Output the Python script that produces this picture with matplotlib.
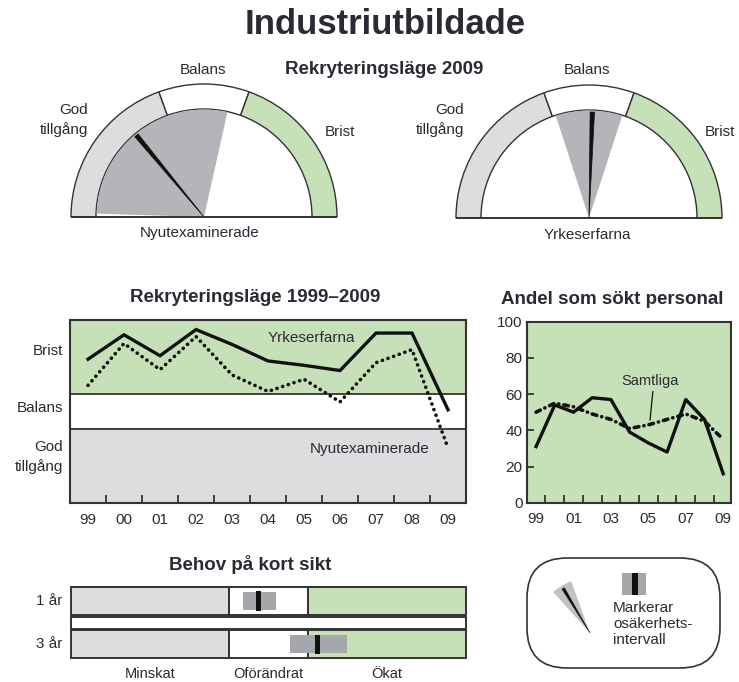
import matplotlib
matplotlib.use("Agg")
import matplotlib.pyplot as plt
from matplotlib.patches import Wedge, Polygon, Rectangle, FancyBboxPatch
import numpy as np

plt.rcParams['font.family'] = ['Liberation Sans', 'DejaVu Sans']

W, H = 739, 682

# ---------------- data ----------------
years = ["99", "00", "01", "02", "03", "04", "05", "06", "07", "08", "09"]
# recruitment situation index: > 20 shortage, -20..20 balance, < -20 good supply
yrkeserfarna_trend = [60, 88, 64, 94, 77, 58, 53, 47, 90, 90, 2]
nyutex_trend = [30, 78, 48, 86, 42, 23, 37, 11, 56, 71, -42]
# share (%) of employers who searched for staff
sokt_industri = [31, 54, 50, 58, 57, 39, 33, 28, 57, 46, 16]
sokt_samtliga = [50, 55, 53, 49, 46, 41, 43, 46, 49, 45, 35]

# gauges, scale 0 (good supply) .. 100 (shortage)
gauge_names = ["Nyutexaminerade", "Yrkeserfarna"]
gauge_needle = [28, 51]
gauge_low = [1, 40]
gauge_high = [57, 60]
gauge_zone_limits = [0, 39, 61, 100]
zone_names = ["God\ntillgång", "Balans", "Brist"]

# short-term demand, scale -1 (decreased) .. 1 (increased)
behov_rows = ["1 år", "3 år"]
behov_est = [-0.05, 0.25]
behov_low = [-0.13, 0.11]
behov_high = [0.04, 0.40]
behov_zone_limits = [-1, -0.2, 0.2, 1]
behov_names = ["Minskat", "Oförändrat", "Ökat"]

# ---------------- style ----------------
TXT = '#2a2a35'
EDGE = '#333333'
GREEN = '#c6e0b8'
LGRAY = '#dcdddf'
MGRAY = '#b5b5b9'
BGRAY = '#a6a7ab'
zone_colors = [LGRAY, 'white', GREEN]

fig = plt.figure(figsize=(W / 100, H / 100), dpi=100)
bg = fig.add_axes([0, 0, 1, 1])
bg.set_xlim(0, W)
bg.set_ylim(0, H)
bg.axis('off')


def Y(py):
    return H - py


def rect(l, t, r, b):
    return [l / W, (H - b) / H, (r - l) / W, (b - t) / H]


def tapered_needle(ax, cx, cy, angle_deg, length, half_w, **kw):
    th = np.radians(angle_deg)
    ux, uy = np.cos(th), np.sin(th)
    px, py = -uy, ux
    tx, ty = cx + length * ux, cy + length * uy
    pts = [(cx, cy), (tx + half_w * px, ty + half_w * py),
           (tx - half_w * px, ty - half_w * py)]
    ax.add_patch(Polygon(pts, closed=True, **kw))


# ---------------- titles ----------------
bg.text(385, Y(24), "Industriutbildade", ha='center', va='center',
        fontsize=25, fontweight='bold', color=TXT)
bg.text(384, Y(70), "Rekryteringsläge 2009", ha='center', va='center',
        fontsize=13.5, fontweight='bold', color=TXT)

# ---------------- gauges ----------------
R_OUT, R_IN = 133, 108


def gauge_angle(v):
    return 180 - 1.8 * v


gauge_geo = [
    dict(cx=204, cy=217, balans=(203, 70), god=(88, 120), brist=(340, 132), name=(200, 233)),
    dict(cx=589, cy=218, balans=(587, 70), god=(464, 120), brist=(720, 132), name=(587, 235)),
]

for i, g in enumerate(gauge_geo):
    cx, cy = g['cx'], Y(g['cy'])
    for z in range(3):
        a1 = gauge_angle(gauge_zone_limits[z + 1])
        a2 = gauge_angle(gauge_zone_limits[z])
        bg.add_patch(Wedge((cx, cy), R_OUT, a1, a2, width=R_OUT - R_IN,
                           fc=zone_colors[z], ec=EDGE, lw=1.0))
    bg.add_patch(Wedge((cx, cy), R_IN - 0.5, gauge_angle(gauge_high[i]),
                       gauge_angle(gauge_low[i]), fc=MGRAY, ec='none'))
    tapered_needle(bg, cx, cy, gauge_angle(gauge_needle[i]), R_IN - 2, 2.2,
                   fc='#111111', ec='#111111', lw=0.5)
    bg.plot([cx - R_OUT, cx + R_OUT], [cy, cy], color=EDGE, lw=1.4,
            solid_capstyle='butt')
    bg.text(g['balans'][0], Y(g['balans'][1]), zone_names[1], ha='center',
            va='center', fontsize=11, color=TXT)
    bg.text(g['god'][0], Y(g['god'][1]), zone_names[0], ha='right', va='center',
            fontsize=11, color=TXT, linespacing=1.45)
    bg.text(g['brist'][0], Y(g['brist'][1]), zone_names[2], ha='center',
            va='center', fontsize=11, color=TXT)
    bg.text(g['name'][0], Y(g['name'][1]), gauge_names[i], ha='center',
            va='center', fontsize=11, color=TXT)

# ---------------- recruitment trend chart ----------------
x = np.arange(len(years))
ax1 = fig.add_axes(rect(70, 320, 466, 503))
ax1.set_xlim(-0.5, len(years) - 0.5)
ax1.set_ylim(-105, 105)
ax1.axhspan(20, 105, color=GREEN, lw=0)
ax1.axhspan(-105, -20, color=LGRAY, lw=0)
ax1.axhline(20, color=EDGE, lw=1.3)
ax1.axhline(-20, color=EDGE, lw=1.3)
ax1.plot(x, yrkeserfarna_trend, color='#111111', lw=2.4, solid_joinstyle='miter')
ax1.plot(x, nyutex_trend, color='#111111', lw=2.6, linestyle=(0, (0.05, 1.6)),
         dash_capstyle='round')
ax1.text(6.2, 84, "Yrkeserfarna", ha='center', va='center', fontsize=11, color=TXT)
ax1.text(7.83, -43, "Nyutexaminerade", ha='center', va='center', fontsize=11, color=TXT)
ax1.set_xticks(x)
ax1.set_xticklabels(years)
ax1.set_xticks(x[:-1] + 0.5, minor=True)
ax1.set_yticks([])
ax1.tick_params(axis='x', which='major', length=0, pad=7, labelsize=11, labelcolor=TXT)
ax1.tick_params(axis='x', which='minor', direction='in', length=6, width=1.3, color=EDGE)
for s in ax1.spines.values():
    s.set_linewidth(1.5)
    s.set_color(EDGE)
bg.text(255, Y(298), "Rekryteringsläge 1999–2009", ha='center', va='center',
        fontsize=13.5, fontweight='bold', color=TXT)
bg.text(63, Y(351), "Brist", ha='right', va='center', fontsize=11, color=TXT)
bg.text(63, Y(408), "Balans", ha='right', va='center', fontsize=11, color=TXT)
bg.text(63, Y(457), "God\ntillgång", ha='right', va='center', fontsize=11,
        color=TXT, linespacing=1.45)

# ---------------- share searching staff ----------------
ax2 = fig.add_axes(rect(526.7, 321.7, 730.7, 502.7))
ax2.set_facecolor(GREEN)
ax2.set_xlim(-0.5, 10.4)
ax2.set_ylim(0, 100)
ax2.plot(x, sokt_industri, color='#111111', lw=2.4)
ax2.plot(x, sokt_samtliga, color='#111111', lw=2.6,
         linestyle=(0, (1.3, 1.4, 0.05, 1.4)), dash_capstyle='round')
ax2.text(6.1, 67, "Samtliga", ha='center', va='center', fontsize=10.5, color=TXT)
ax2.plot([6.24, 6.09], [61.3, 45.7], color='#111111', lw=0.9)
ax2.set_xticks(x[::2])
ax2.set_xticklabels(years[::2])
ax2.set_xticks(x[:-1] + 0.5, minor=True)
ax2.set_yticks(np.arange(0, 101, 20))
ax2.tick_params(axis='x', which='major', length=0, pad=7, labelsize=11, labelcolor=TXT)
ax2.tick_params(axis='x', which='minor', direction='in', length=6, width=1.3, color=EDGE)
ax2.tick_params(axis='y', direction='in', length=5, width=1.3, color=EDGE,
                labelsize=11, labelcolor=TXT, pad=3)
for s in ax2.spines.values():
    s.set_linewidth(1.5)
    s.set_color(EDGE)
bg.text(612, Y(299), "Andel som sökt personal", ha='center', va='center',
        fontsize=13.5, fontweight='bold', color=TXT)

# ---------------- short-term demand ----------------
ax3 = fig.add_axes(rect(70.7, 586.7, 466, 658.3))
ax3.set_xlim(-1, 1)
ax3.set_ylim(0, 71.6)
ax3.axis('off')
row_bottom = [43.3, 0.0]
row_h = 28.3
for r in range(len(behov_rows)):
    yb = row_bottom[r]
    for z in range(3):
        ax3.add_patch(Rectangle((behov_zone_limits[z], yb),
                                behov_zone_limits[z + 1] - behov_zone_limits[z], row_h,
                                fc=zone_colors[z], ec=EDGE, lw=1.4, clip_on=False))
    ax3.add_patch(Rectangle((behov_low[r], yb + 5), behov_high[r] - behov_low[r],
                            row_h - 10, fc=BGRAY, ec='none', clip_on=False))
    ax3.add_patch(Rectangle((behov_est[r] - 0.0125, yb + 4.5), 0.025, row_h - 9,
                            fc='#111111', ec='none', clip_on=False))
    ax3.text(-1.04, yb + row_h / 2, behov_rows[r], ha='right', va='center',
             fontsize=11, color=TXT)
ax3.add_patch(Rectangle((-1, 29.6), 2, 12.2, fc='white', ec=EDGE, lw=1.4, clip_on=False))
for z in range(3):
    ax3.text((behov_zone_limits[z] + behov_zone_limits[z + 1]) / 2, -15.5,
             behov_names[z], ha='center', va='center', fontsize=10.5, color=TXT)
bg.text(250, Y(564), "Behov på kort sikt", ha='center', va='center',
        fontsize=13.5, fontweight='bold', color=TXT)

# ---------------- legend ----------------
bg.add_patch(FancyBboxPatch((527, Y(668)), 193, 110,
                            boxstyle="round,pad=0,rounding_size=40",
                            fc='white', ec=EDGE, lw=1.2))
bg.add_patch(Wedge((590, Y(633)), 55, 110, 132, fc='#c2c2c6', ec='none'))
tapered_needle(bg, 590, Y(633), 121, 52, 1.4, fc='#111111', ec='#111111', lw=0.4)
bg.add_patch(Rectangle((622.3, Y(595)), 23.7, 22.3, fc=BGRAY, ec='none'))
bg.add_patch(Rectangle((631.5, Y(595)), 6.8, 22.3, fc='#111111', ec='none'))
bg.text(613, Y(601), "Markerar\nosäkerhets-\nintervall", ha='left', va='top',
        fontsize=11, color=TXT, linespacing=1.2)

fig.savefig("out.png", dpi=100)
